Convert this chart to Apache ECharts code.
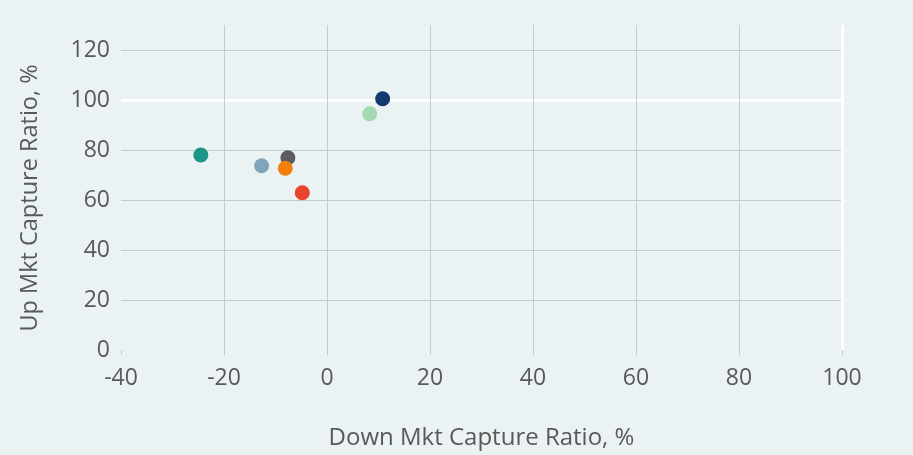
<!DOCTYPE html>
<html>
<head>
<meta charset="utf-8">
<script src="https://cdn.jsdelivr.net/npm/echarts@6/dist/echarts.min.js"></script>
<style>
html,body{margin:0;padding:0;background:#ebf2f4;}
#chart{width:913px;height:455px;}
</style>
</head>
<body>
<div id="chart"></div>
<script>
// Data
const fundNames = ['Fund A', 'Fund B', 'Fund C', 'Fund D', 'Fund E', 'Fund F', 'Fund G'];
const downCapture = [-24.5, -12.7, -7.6, -8.1, -4.8, 8.3, 10.8];
const upCapture = [78.0, 73.7, 76.9, 72.7, 62.9, 94.5, 100.5];
const pointColors = ['#1a9586', '#7fa5ba', '#5a5c60', '#f27f0c', '#e8432b', '#a3d9b3', '#133a6e'];
const xTicks = [-40, -20, 0, 20, 40, 60, 80, 100];
const yTicks = [0, 20, 40, 60, 80, 100, 120];

const gridGray = '#c5cacd';
const textColor = '#595959';
const font = 'Open Sans';

const chart = echarts.init(document.getElementById('chart'), null, {renderer: 'canvas'});

const hLines = yTicks.filter(v => v > 0).map(v => ({
  yAxis: v,
  lineStyle: v === 100 ? {color: '#ffffff', width: 3, type: 'solid'} : {color: gridGray, width: 1, type: 'solid'}
}));
const vLines = xTicks.filter(v => v > xTicks[0]).map(v => ({
  xAxis: v,
  lineStyle: v === 100 ? {color: '#ffffff', width: 3, type: 'solid'} : {color: gridGray, width: 1, type: 'solid'}
}));

const series = fundNames.map((n, i) => ({
  name: n,
  type: 'scatter',
  symbolSize: 15,
  itemStyle: {color: pointColors[i], opacity: 1},
  data: [[downCapture[i], upCapture[i]]],
  z: 5
}));
series.unshift({
  type: 'scatter',
  data: [],
  silent: true,
  z: 1,
  markLine: {
    silent: true,
    symbol: 'none',
    label: {show: false},
    animation: false,
    data: hLines.concat(vLines)
  }
});

chart.setOption({
  backgroundColor: '#ebf2f4',
  animation: false,
  grid: {left: 121, right: 71, top: 25, bottom: 105},
  xAxis: {
    type: 'value',
    min: xTicks[0],
    max: xTicks[xTicks.length - 1],
    interval: 20,
    name: 'Down Mkt Capture Ratio, %',
    nameLocation: 'middle',
    nameGap: 76,
    nameTextStyle: {color: textColor, fontSize: 24, fontFamily: font},
    axisLine: {show: false},
    axisTick: {show: true, length: 5, lineStyle: {color: gridGray}},
    splitLine: {show: false},
    axisLabel: {color: textColor, fontSize: 23, fontFamily: font, margin: 17}
  },
  yAxis: {
    type: 'value',
    min: 0,
    max: 130,
    interval: 20,
    axisLine: {show: false},
    axisTick: {show: false},
    splitLine: {show: false},
    axisLabel: {
      color: textColor, fontSize: 23, fontFamily: font, margin: 11,
      formatter: v => (yTicks.indexOf(v) >= 0 ? String(v) : '')
    }
  },
  graphic: [{
    type: 'text',
    x: 30,
    y: 198,
    rotation: Math.PI / 2,
    style: {
      text: 'Up Mkt Capture Ratio, %',
      fill: textColor,
      font: '23.5px "Open Sans"',
      textAlign: 'center',
      textVerticalAlign: 'middle'
    }
  }],
  series: series
});
</script>
</body>
</html>
